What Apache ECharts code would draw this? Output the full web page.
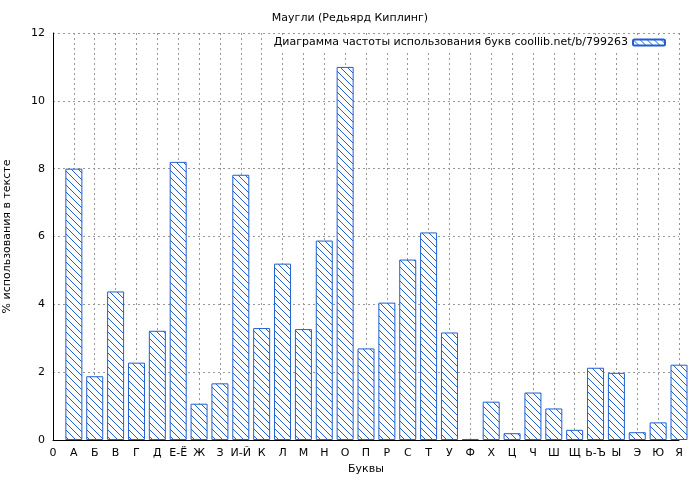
<!DOCTYPE html>
<html><head><meta charset="utf-8">
<script src="https://cdn.jsdelivr.net/npm/echarts@6/dist/echarts.min.js"></script>
<style>html,body{margin:0;padding:0;background:#fff}#c{width:700px;height:480px}</style>
</head><body><div id="c"></div>
<script>
var letters = ['0','А','Б','В','Г','Д','Е-Ё','Ж','З','И-Й','К','Л','М','Н','О','П','Р','С','Т','У','Ф','Х','Ц','Ч','Ш','Щ','Ь-Ъ','Ы','Э','Ю','Я'];
var percents = [null,8.0,1.88,4.38,2.28,3.22,8.2,1.07,1.67,7.82,3.3,5.2,3.27,5.88,11.0,2.7,4.05,5.32,6.12,3.17,0.03,1.13,0.2,1.4,0.93,0.3,2.13,1.98,0.23,0.52,2.22];
var yTicks = [0,2,4,6,8,10,12];

// hatch pattern, "\" direction
var pc = document.createElement('canvas');
pc.width = 7; pc.height = 7;
var ctx = pc.getContext('2d');
ctx.fillStyle = '#fff'; ctx.fillRect(0,0,7,7);
ctx.strokeStyle = '#1f5fd0'; ctx.lineWidth = 1;
ctx.beginPath();
ctx.moveTo(-1,-1); ctx.lineTo(8,8);
ctx.moveTo(-1,6); ctx.lineTo(1,8);
ctx.moveTo(6,-1); ctx.lineTo(8,1);
ctx.stroke();

var chart = echarts.init(document.getElementById('c'));
var font = 'DejaVu Sans';
chart.setOption({
    animation: false,
    textStyle: {fontFamily: font},
    title: {text: 'Маугли (Редьярд Киплинг)', left: 'center', top: 8,
        textStyle: {fontSize: 11, fontWeight: 'normal', color: '#000', fontFamily: font}},
    legend: {
        data: ['Диаграмма частоты использования букв coollib.net/b/799263'],
        right: 30, top: 35, align: 'right', itemWidth: 32, itemHeight: 6, padding: [2,4],
        backgroundColor: '#fff', itemGap: 6,
        textStyle: {fontSize: 11, color: '#000', fontFamily: font}
    },
    grid: {left: 53, right: 21, top: 33, bottom: 40, containLabel: false, outerBoundsMode: 'none'},
    xAxis: {
        type: 'category', data: letters, boundaryGap: false,
        name: 'Буквы', nameLocation: 'middle', nameGap: 24,
        nameTextStyle: {fontSize: 11, color: '#000'},
        axisLine: {lineStyle: {color: '#000'}},
        axisTick: {show: false},
        axisLabel: {interval: 0, fontSize: 11, color: '#000'},
        splitLine: {show: true, lineStyle: {color: '#999', type: [2,3]}}
    },
    yAxis: {
        type: 'value', min: yTicks[0], max: yTicks[yTicks.length-1], interval: 2,
        name: '% использования в тексте', nameLocation: 'middle', nameGap: 40,
        nameTextStyle: {fontSize: 11, color: '#000'},
        axisLine: {show: true, lineStyle: {color: '#000'}},
        axisTick: {show: false},
        axisLabel: {fontSize: 11, color: '#000'},
        splitLine: {lineStyle: {color: '#999', type: [2,3]}}
    },
    series: [{
        name: 'Диаграмма частоты использования букв coollib.net/b/799263',
        type: 'bar', data: percents, barWidth: 17, clip: true,
        itemStyle: {color: {image: pc, repeat: 'repeat'}, borderColor: '#1f5fd0', borderWidth: 1}
    }]
});
</script></body></html>
